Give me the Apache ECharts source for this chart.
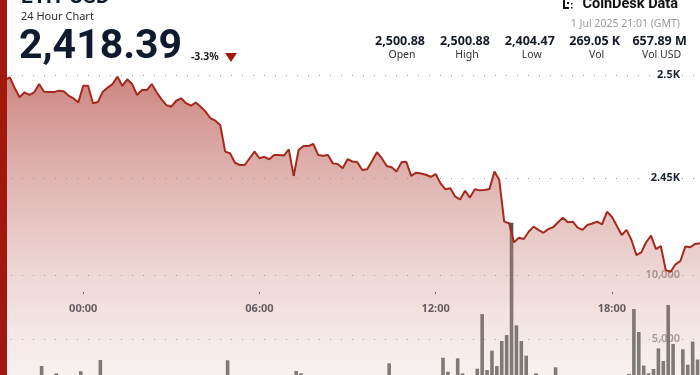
<!DOCTYPE html>
<html><head><meta charset="utf-8">
<script src="https://cdn.jsdelivr.net/npm/echarts@6/dist/echarts.min.js"></script>
<style>html,body{margin:0;padding:0;background:#fff;overflow:hidden}#c{width:700px;height:420px}</style>
</head><body><div id="c"></div>
<script>
// ---- data (10-minute steps, 30 Jun 21:10 -> 1 Jul 21:00 GMT) ----
const prices = [
2500.88,2497.6,2498.9,2493.7,2489.2,2491.6,2490.3,2491.6,2495.6,2491.9,
2491.7,2491.7,2492.4,2492.1,2490.0,2488.7,2486.7,2494.8,2494.8,2486.3,
2486.9,2491.9,2493.9,2495.6,2499.2,2494.7,2497.9,2495.6,2490.3,2492.7,
2492.7,2495.6,2491.6,2488.2,2485.4,2484.6,2487.5,2488.7,2486.3,2485.1,
2486.6,2484.6,2482.2,2479.0,2477.8,2475.7,2462.8,2462.0,2457.4,2456.3,
2456.3,2459.6,2462.8,2459.6,2460.3,2459.1,2461.2,2461.2,2460.9,2463.9,
2451.0,2463.6,2465.5,2465.5,2466.5,2461.2,2460.8,2461.2,2457.1,2456.8,
2454.7,2459.1,2458.0,2457.6,2453.9,2454.2,2458.3,2462.5,2459.6,2455.8,
2455.2,2453.1,2457.6,2457.9,2451.0,2452.6,2452.2,2451.6,2450.6,2451.9,
2447.4,2444.5,2445.0,2440.9,2439.6,2443.8,2440.5,2444.5,2444.0,2444.2,
2444.7,2453.1,2449.0,2428.8,2428.0,2418.8,2421.0,2420.4,2423.9,2426.4,
2424.8,2423.4,2425.2,2426.1,2428.5,2430.7,2428.5,2428.8,2425.9,2424.8,
2427.2,2427.9,2428.8,2427.5,2433.6,2431.2,2426.8,2422.3,2424.8,2419.9,
2412.6,2413.9,2418.8,2422.0,2415.5,2417.0,2405.3,2404.47,2408.1,2409.7,
2416.7,2416.4,2418.0,2418.39
];
const volumes = [
1450,980,1720,1210,860,1530,1140,1680,2890,1320,
940,2320,1080,760,1410,1190,2480,1560,1870,1030,
3360,1250,920,1380,1610,1160,1470,890,1220,1040,
780,1330,950,1180,1420,1010,860,1290,1120,970,
1250,1380,1540,1760,1630,2050,3340,1720,1480,1260,
1090,1340,1570,1150,980,1210,870,1030,1190,1650,
2500,2320,1480,1130,990,1270,850,1060,1320,940,
1180,1410,1020,880,1360,1240,1570,1830,1460,3100,
1390,1210,1640,1080,1720,1350,1160,1290,1470,1620,
3540,2450,1880,3490,2320,1960,2080,2680,6950,2580,
4090,2890,4840,5310,14090,6070,4840,3700,2120,2320,
1850,1540,1720,2790,1630,1410,1290,1560,1380,1170,
1450,1260,1090,1340,1780,1520,1680,1910,2270,7340,
5550,2920,2320,2660,4270,3280,7660,4610,2100,4200,
3000,4800,3400
];
const priceTickValues = [2450, 2500];
const priceTickLabels = ['2.45K', '2.5K'];
const timeTickLabels = ['00:00', '06:00', '12:00', '18:00'];
const statValues = ['2,500.88', '2,500.88', '2,404.47', '269.05 K', '657.89 M'];
const statLabels = ['Open', 'High', 'Low', 'Vol', 'Vol USD'];
const pair = 'ETH-USD';
const subtitle = '24 Hour Chart';
const lastPrice = '2,418.39';
const change = '-3.3%';
const stamp = '1 Jul 2025 21:01 (GMT)';
const brand = 'CoinDesk Data';

// ---- categories ----
const times = [];
for (let i = 0; i < prices.length; i++) {
  const m = (21 * 60 + 10 + i * 10) % 1440;
  times.push(String(Math.floor(m / 60)).padStart(2, '0') + ':' + String(m % 60).padStart(2, '0'));
}
const volCats = volumes.map((v, i) => 'b' + i);

const chart = echarts.init(document.getElementById('c'), null, {renderer: 'canvas'});
const sans = '"Noto Sans", Roboto, sans-serif';

const graphic = [
  {type: 'rect', left: 0, top: 0, z: 100, shape: {width: 7, height: 420}, style: {fill: '#a0190c'}},
  {type: 'text', x: 21, y: -2, z: 100, style: {text: pair, font: 'bold 21px Roboto', fill: '#0f1b2d', textVerticalAlign: 'middle', verticalAlign: 'middle'}},
  {type: 'text', x: 21, y: 16.5, z: 100, style: {text: subtitle, font: '11px ' + sans, fill: '#2b2f36', textVerticalAlign: 'middle', verticalAlign: 'middle'}},
  {type: 'text', x: 19, y: 48, z: 100, style: {text: lastPrice, font: 'bold 41px Roboto', fill: '#0f1b2d', textVerticalAlign: 'middle', verticalAlign: 'middle'}},
  {type: 'text', x: 191, y: 57, z: 100, style: {text: change, font: 'bold 10.5px ' + sans, fill: '#1a1f26', textVerticalAlign: 'middle', verticalAlign: 'middle'}},
  {type: 'polygon', z: 100, shape: {points: [[225, 53], [237, 53], [231, 62]]}, style: {fill: '#a0190c'}},
  // brand mark
  {type: 'rect', z: 100, shape: {x: 563, y: 0, width: 2, height: 9}, style: {fill: '#111'}},
  {type: 'rect', z: 100, shape: {x: 563, y: 7, width: 6, height: 2}, style: {fill: '#111'}},
  {type: 'rect', z: 100, shape: {x: 567, y: 2, width: 2, height: 2}, style: {fill: '#111'}},
  {type: 'rect', z: 100, shape: {x: 571, y: 3, width: 1.5, height: 1.5}, style: {fill: '#111'}},
  {type: 'rect', z: 100, shape: {x: 571, y: 7, width: 1.5, height: 1.5}, style: {fill: '#111'}},
  {type: 'text', x: 678, y: 4, z: 100, style: {text: brand, font: 'bold 14.5px Roboto', fill: '#111', textAlign: 'right', align: 'right', textVerticalAlign: 'middle', verticalAlign: 'middle'}},
  {type: 'text', x: 680, y: 24, z: 100, style: {text: stamp, font: '10.5px ' + sans, fill: '#9a9a9a', textAlign: 'right', align: 'right', textVerticalAlign: 'middle', verticalAlign: 'middle'}}
];
statValues.forEach((v, k) => {
  const cx = 400 + k * 64.9;
  graphic.push({type: 'text', x: cx, y: 41, z: 100, style: {text: v, font: 'bold 12.5px ' + sans, fill: '#141b26', textAlign: 'center', align: 'center', textVerticalAlign: 'middle', verticalAlign: 'middle'}});
  graphic.push({type: 'text', x: cx + 2, y: 55, z: 100, style: {text: statLabels[k], font: '10.5px ' + sans, fill: '#333', textAlign: 'center', align: 'center', textVerticalAlign: 'middle', verticalAlign: 'middle'}});
});

chart.setOption({
  animation: false,
  backgroundColor: '#fff',
  grid: [
    {left: 0, right: 0, top: 23.5, bottom: 36},
    {left: 0, right: 0, top: 275, bottom: 17}
  ],
  xAxis: [
    {type: 'category', gridIndex: 0, data: times, boundaryGap: false, offset: -92,
     axisLine: {show: false},
     axisTick: {show: true, length: 2, interval: (i, v) => timeTickLabels.includes(v), lineStyle: {color: '#333'}},
     axisLabel: {interval: (i, v) => timeTickLabels.includes(v), margin: 11, color: '#1b2433', fontWeight: 'bold', fontSize: 11, fontFamily: sans},
     splitLine: {show: false}},
    {type: 'category', gridIndex: 1, data: volCats, boundaryGap: true, show: false}
  ],
  yAxis: [
    {type: 'value', gridIndex: 0, position: 'right', min: 2350, max: 2525, interval: 50,
     splitLine: {show: false}, axisLine: {show: false}, axisTick: {show: false},
     axisLabel: {inside: true, margin: 20, color: '#1b2433', fontWeight: 'bold', fontSize: 11, fontFamily: sans,
       formatter: v => { const k = priceTickValues.indexOf(v); return k < 0 ? '' : priceTickLabels[k]; }}},
    {type: 'value', gridIndex: 1, position: 'right', min: 0, max: 10000, interval: 5000,
     splitLine: {show: true, lineStyle: {type: [1, 10], color: '#999', width: 1}},
     axisLine: {show: false}, axisTick: {show: false},
     axisLabel: {inside: true, margin: 20, color: '#8a8580', fontWeight: 600, fontSize: 11, fontFamily: sans,
       formatter: v => v === 0 ? '' : v.toLocaleString('en-US')}}
  ],
  series: [
    {type: 'bar', xAxisIndex: 1, yAxisIndex: 1, data: volumes, barWidth: 3.6, clip: false, silent: true,
     itemStyle: {color: '#4d544c'}},
    {type: 'line', xAxisIndex: 0, yAxisIndex: 0, data: prices, symbol: 'none', silent: true,
     lineStyle: {color: '#a52a1e', width: 2},
     areaStyle: {opacity: 1, color: new echarts.graphic.LinearGradient(0, 0, 0, 1, [
       {offset: 0, color: 'rgba(170,50,40,0.6)'},
       {offset: 1, color: 'rgba(235,215,212,0.3)'}])},
     markLine: {silent: true, symbol: ['none', 'none'], label: {show: false}, animation: false,
       lineStyle: {type: [1, 10], color: '#999', width: 1},
       data: priceTickValues.map(v => ({yAxis: v}))}}
  ],
  graphic: graphic
});
</script></body></html>
